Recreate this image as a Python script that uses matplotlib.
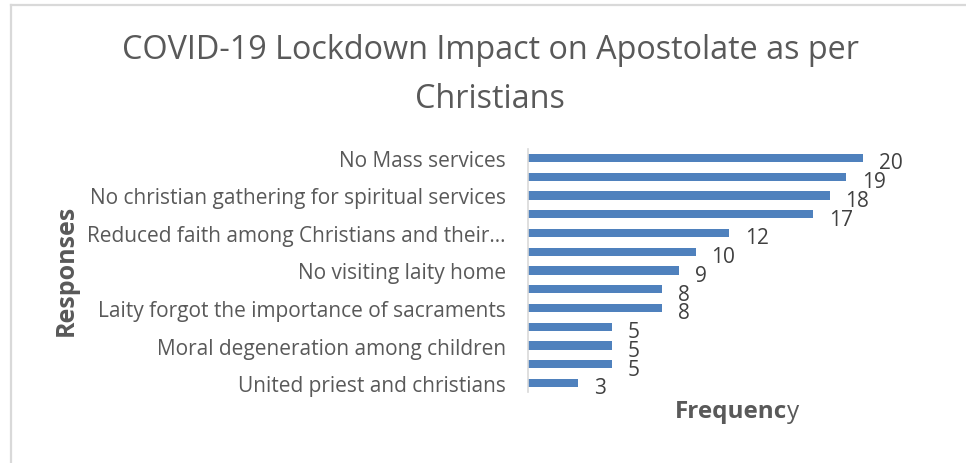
"""Horizontal bar chart: COVID-19 lockdown impact on apostolate."""

import matplotlib

matplotlib.use("Agg")
import matplotlib.pyplot as plt
from matplotlib.lines import Line2D

# categories top to bottom; Excel only printed every second label
categories = [
    "No Mass services",
    "",
    "No christian gathering for spiritual services",
    "",
    "Reduced faith among Christians and their\u2026",
    "",
    "No visiting laity home",
    "",
    "Laity forgot the importance of sacraments",
    "",
    "Moral degeneration among children",
    "",
    "United priest and christians",
]
frequency = [20, 19, 18, 17, 12, 10, 9, 8, 8, 5, 5, 5, 3]

TITLE = "COVID-19 Lockdown Impact on Apostolate as per\nChristians"
BAR_COLOR = "#4F81BD"
TEXT_COLOR = "#595959"
FONT = "Open Sans"

plt.rcParams["font.family"] = [FONT, "DejaVu Sans"]

W, H = 966, 464
fig = plt.figure(figsize=(W / 100, H / 100), dpi=100)
fig.patch.set_facecolor("white")

# cropped chart frame (top and left edges only visible)
fig.add_artist(Line2D([10.5 / W, 1], [1 - 5.5 / H] * 2, color="#D9D9D9", lw=1.6))
fig.add_artist(Line2D([10.5 / W] * 2, [0, 1 - 5.5 / H], color="#D9D9D9", lw=1.6))

left, right = 528 / W, 896.5 / W
top, bottom = 1 - 149.6 / H, 1 - 393.4 / H
ax = fig.add_axes([left, bottom, right - left, top - bottom])

pos = list(range(len(categories)))
ax.barh(pos, frequency, height=0.43, color=BAR_COLOR)
ax.set_ylim(len(categories) - 0.5, -0.5)
ax.set_xlim(0, 22)

for y, v in zip(pos, frequency):
    ax.annotate(
        str(v),
        xy=(v, y),
        xytext=(11.5, -3.5),
        textcoords="offset points",
        ha="left",
        va="center",
        fontsize=15,
        color="#404040",
    )

ax.set_yticks(pos)
ax.set_yticklabels(categories, fontsize=15, color=TEXT_COLOR)
ax.tick_params(axis="y", length=0, pad=16)
ax.set_xticks([])
for side in ("top", "right", "bottom"):
    ax.spines[side].set_visible(False)
ax.spines["left"].set_color("#D9D9D9")
ax.spines["left"].set_linewidth(1.2)

fig.text(490 / W, 1 - 75 / H, TITLE, ha="center", va="center",
         fontsize=23.3, color=TEXT_COLOR, linespacing=1.62)

fig.text(66 / W, 1 - 270 / H, "Responses", rotation=90, ha="center",
         va="center", fontsize=18, fontweight="bold", color=TEXT_COLOR)

freq_label = fig.text(675 / W, 1 - 412 / H, "Frequenc", ha="left",
                      va="center", fontsize=17.5, fontweight="bold",
                      color=TEXT_COLOR)
ax.annotate("y", xy=(1, 0), xycoords=freq_label, ha="left", va="bottom",
            fontsize=17.5, color=TEXT_COLOR)

fig.savefig("out.png", dpi=100, facecolor="white")
